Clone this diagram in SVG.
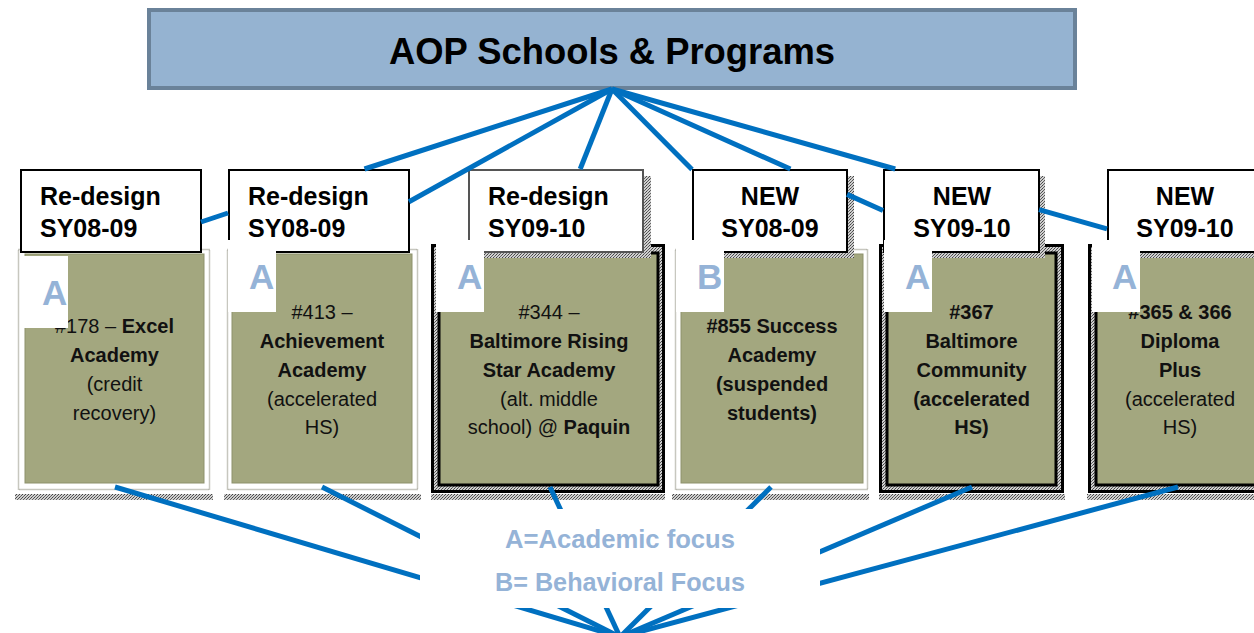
<svg xmlns="http://www.w3.org/2000/svg" width="1254" height="633" viewBox="0 0 1254 633">
<style>
.ttl{font-family:"Liberation Sans",Arial,sans-serif;font-weight:bold;font-size:37px;fill:#000;text-anchor:middle}
.lbl{font-family:"Liberation Sans",Arial,sans-serif;font-weight:bold;font-size:25px;fill:#000}
.lblc{text-anchor:middle}
.nt{font-family:"Liberation Sans",Arial,sans-serif;font-size:20px;fill:#111;text-anchor:middle}
.b{font-weight:bold}
.let{font-family:"Liberation Sans",Arial,sans-serif;font-weight:bold;font-size:35px;fill:#95B3D7}
.leg{font-family:"Liberation Sans",Arial,sans-serif;font-weight:bold;font-size:25px;fill:#95B3D7;text-anchor:middle}
.con{stroke:#0070C0;stroke-width:5;fill:none;stroke-linecap:butt}
.lbox{fill:#fff;stroke:#000;stroke-width:2}
.lbox3{fill:#fff;stroke:#555;stroke-width:2}
.sq{fill:#fff}
.lightout{fill:#fff;stroke:#8f8f80;stroke-width:1.5;stroke-dasharray:1 1}
.lightin{fill:#A3A77F;stroke:#8d916c;stroke-width:1}
.darkout{fill:url(#st);stroke:#000;stroke-width:3}
.darkin{fill:#A3A77F;stroke:#000;stroke-width:3}
.band{fill:url(#st)}
</style>
<defs>
<pattern id="st" width="3" height="3" patternUnits="userSpaceOnUse">
<rect width="3" height="3" fill="#cfcfcf"/>
<rect x="0" y="0" width="1" height="1" fill="#555"/>
<rect x="2" y="1" width="1" height="1" fill="#666"/>
<rect x="1" y="2" width="1" height="1" fill="#444"/>
</pattern>
</defs>
<rect width="1254" height="633" fill="#fff"/>

<g id="title">
<rect x="149" y="10" width="926" height="78" fill="#95B3D1" stroke="#6A8299" stroke-width="4"/>
<text class="ttl" x="612" y="64" textLength="446" lengthAdjust="spacingAndGlyphs">AOP Schools &amp; Programs</text>
</g>

<g id="school-178">
<rect class="band" x="15" y="494" width="198" height="6"/>
<rect class="lightout" x="18.5" y="249.5" width="191" height="240"/>
<rect class="lightin" x="25" y="254" width="179" height="229"/>
<text class="nt" x="114.5" y="333">#178 – <tspan class="b">Excel</tspan></text>
<text class="nt b" x="114.5" y="362">Academy</text>
<text class="nt" x="114.5" y="391">(credit</text>
<text class="nt" x="114.5" y="420">recovery)</text>
<rect class="lbox" x="21" y="170" width="180" height="82"/>
<text class="lbl" x="40" y="205">Re-design</text>
<text class="lbl" x="40" y="237">SY08-09</text>
<rect class="sq" x="20" y="256" width="48" height="72"/>
<text class="let" x="42" y="305">A</text>
</g>

<g id="school-413">
<rect class="band" x="224" y="494" width="197" height="6"/>
<rect class="lightout" x="227.5" y="249.5" width="190" height="240"/>
<rect class="lightin" x="232" y="254" width="180" height="229"/>
<text class="nt" x="322" y="319">#413 –</text>
<text class="nt b" x="322" y="348">Achievement</text>
<text class="nt b" x="322" y="377">Academy</text>
<text class="nt" x="322" y="406">(accelerated</text>
<text class="nt" x="322" y="434">HS)</text>
<rect class="lbox" x="229" y="170" width="180" height="82"/>
<text class="lbl" x="248" y="205">Re-design</text>
<text class="lbl" x="248" y="237">SY08-09</text>
<rect class="sq" x="228" y="240" width="48" height="72"/>
<text class="let" x="249" y="289">A</text>
</g>

<g id="school-344">
<rect class="band" x="431" y="494" width="234" height="6"/>
<rect class="darkout" x="432.5" y="245.5" width="231" height="246"/>
<rect class="darkin" x="439" y="253" width="219" height="232"/>
<text class="nt" x="549" y="319">#344 –</text>
<text class="nt b" x="549" y="348">Baltimore Rising</text>
<text class="nt b" x="549" y="377">Star Academy</text>
<text class="nt" x="549" y="406">(alt. middle</text>
<text class="nt" x="549" y="434">school) @ <tspan class="b">Paquin</tspan></text>
<rect class="band" x="475" y="176" width="176" height="82"/>
<rect class="lbox3" x="469" y="170" width="174" height="82"/>
<text class="lbl" x="488" y="205">Re-design</text>
<text class="lbl" x="488" y="237">SY09-10</text>
<rect class="sq" x="436" y="240" width="48" height="72"/>
<text class="let" x="457" y="289">A</text>
</g>

<g id="school-855">
<rect class="band" x="672" y="494" width="197" height="6"/>
<rect class="lightout" x="675.5" y="249.5" width="192" height="240"/>
<rect class="lightin" x="681" y="254" width="182" height="229"/>
<text class="nt b" x="772" y="333">#855 Success</text>
<text class="nt b" x="772" y="362">Academy</text>
<text class="nt b" x="772" y="391">(suspended</text>
<text class="nt b" x="772" y="420">students)</text>
<rect class="band" x="699" y="176" width="155" height="82"/>
<rect class="lbox" x="693" y="170" width="154" height="82"/>
<text class="lbl lblc" x="770" y="205">NEW</text>
<text class="lbl lblc" x="770" y="237">SY08-09</text>
<rect class="sq" x="676" y="240" width="48" height="72"/>
<text class="let" x="697" y="289">B</text>
</g>

<g id="school-367">
<rect class="band" x="879" y="494" width="186" height="6"/>
<rect class="darkout" x="880.5" y="245.5" width="182" height="246"/>
<rect class="darkin" x="887" y="253" width="169" height="232"/>
<text class="nt b" x="971.5" y="319">#367</text>
<text class="nt b" x="971.5" y="348">Baltimore</text>
<text class="nt b" x="971.5" y="377">Community</text>
<text class="nt b" x="971.5" y="406">(accelerated</text>
<text class="nt b" x="971.5" y="434">HS)</text>
<rect class="band" x="890" y="176" width="155" height="82"/>
<rect class="lbox" x="884" y="170" width="155" height="82"/>
<text class="lbl lblc" x="962" y="205">NEW</text>
<text class="lbl lblc" x="962" y="237">SY09-10</text>
<rect class="sq" x="884" y="240" width="48" height="72"/>
<text class="let" x="905" y="289">A</text>
</g>

<g id="school-365-366">
<rect class="band" x="1087" y="494" width="190" height="6"/>
<rect class="darkout" x="1089.5" y="245.5" width="182" height="246"/>
<rect class="darkin" x="1096" y="253" width="169" height="232"/>
<text class="nt b" x="1180" y="319">#365 &amp; 366</text>
<text class="nt b" x="1180" y="348">Diploma</text>
<text class="nt b" x="1180" y="377">Plus</text>
<text class="nt" x="1180" y="406">(accelerated</text>
<text class="nt" x="1180" y="434">HS)</text>
<rect class="band" x="1114" y="176" width="155" height="82"/>
<rect class="lbox" x="1108" y="170" width="155" height="82"/>
<text class="lbl lblc" x="1185" y="205">NEW</text>
<text class="lbl lblc" x="1185" y="237">SY09-10</text>
<rect class="sq" x="1092" y="240" width="48" height="72"/>
<text class="let" x="1112" y="289">A</text>
</g>

<g id="connectors">
<path class="con" d="M612,89 L364.5,169 M228,213 L201,222"/>
<path class="con" d="M612,89 L409,201.7"/>
<path class="con" d="M612,89 L580.2,169"/>
<path class="con" d="M612,89 L692,169.5"/>
<path class="con" d="M612,89 L790.4,169 M847,194.4 L883,210.5"/>
<path class="con" d="M612,89 L895.2,169 M1039,209.6 L1107,228.8"/>
<line class="con" x1="115" y1="487" x2="620" y2="637"/>
<line class="con" x1="322" y1="487" x2="620" y2="637"/>
<line class="con" x1="550" y1="487" x2="620" y2="637"/>
<line class="con" x1="771" y1="487" x2="620" y2="637"/>
<line class="con" x1="972" y1="487" x2="620" y2="637"/>
<line class="con" x1="1178" y1="487" x2="620" y2="637"/>
</g>

<g id="legend">
<rect x="420" y="509" width="400" height="99" fill="#fff"/>
<text class="leg" x="620" y="548" textLength="230" lengthAdjust="spacingAndGlyphs">A=Academic focus</text>
<text class="leg" x="620" y="591" textLength="250" lengthAdjust="spacingAndGlyphs">B= Behavioral Focus</text>
</g>
</svg>
